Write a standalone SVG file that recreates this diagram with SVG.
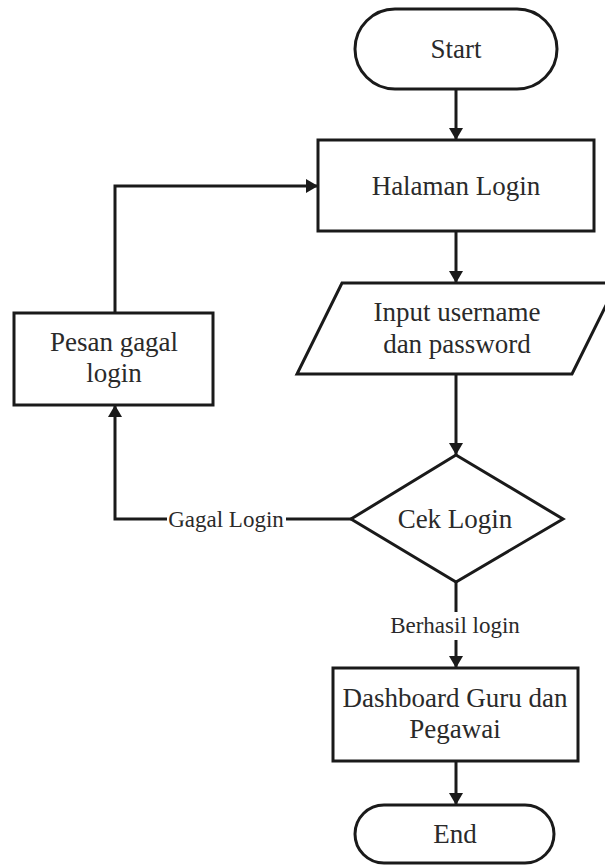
<svg xmlns="http://www.w3.org/2000/svg" width="605" height="866" viewBox="0 0 605 866">
  <style>
    .shape { fill: #ffffff; stroke: #1a1a1a; stroke-width: 3; }
    .line { fill: none; stroke: #1a1a1a; stroke-width: 3; }
    .txt { font-family: "Liberation Serif", "Times New Roman", serif; font-size: 27px; fill: #2a2a2a; text-anchor: middle; }
    .lbl { font-family: "Liberation Serif", "Times New Roman", serif; font-size: 23px; fill: #2a2a2a; text-anchor: middle; }
  </style>
  <defs>
    <marker id="arrow" viewBox="0 0 12 14" refX="12" refY="7" markerWidth="12" markerHeight="14" markerUnits="userSpaceOnUse" orient="auto">
      <path d="M0,0 L12,7 L0,14 Z" fill="#1a1a1a"/>
    </marker>
  </defs>
  <rect width="605" height="866" fill="#ffffff"/>

  <g id="connectors">
    <path class="line" d="M456,89 L456,140" marker-end="url(#arrow)"/>
    <path class="line" d="M456,231 L456,283" marker-end="url(#arrow)"/>
    <path class="line" d="M456,374 L456,455" marker-end="url(#arrow)"/>
    <path class="line" d="M456,582 L456,612"/>
    <path class="line" d="M456,640 L456,668" marker-end="url(#arrow)"/>
    <path class="line" d="M456,761 L456,805" marker-end="url(#arrow)"/>
    <path class="line" d="M351,519 L115,519 L115,405" marker-end="url(#arrow)"/>
    <path class="line" d="M115,313 L115,186 L318,186" marker-end="url(#arrow)"/>
    <g id="label-gagal">
      <rect x="167" y="505" width="119" height="27" fill="#ffffff"/>
      <text class="lbl" x="226" y="527">Gagal Login</text>
    </g>
    <text class="lbl" x="455" y="633">Berhasil login</text>
  </g>

  <g id="start">
    <rect class="shape" x="355" y="9" width="202" height="80" rx="40" ry="40"/>
    <text class="txt" x="456" y="58">Start</text>
  </g>

  <g id="halaman-login">
    <rect class="shape" x="318" y="140" width="276" height="91"/>
    <text class="txt" x="456" y="195">Halaman Login</text>
  </g>

  <g id="input">
    <polygon class="shape" points="342,283 617,283 572,374 297,374"/>
    <text class="txt" x="457" y="321">Input username</text>
    <text class="txt" x="457" y="353">dan password</text>
  </g>

  <g id="cek-login">
    <polygon class="shape" points="456,455 563,519 456,582 351,519"/>
    <text class="txt" x="455" y="528">Cek Login</text>
  </g>

  <g id="pesan-gagal">
    <rect class="shape" x="14" y="313" width="199" height="92"/>
    <text class="txt" x="114" y="351">Pesan gagal</text>
    <text class="txt" x="114" y="382">login</text>
  </g>

  <g id="dashboard">
    <rect class="shape" x="333" y="668" width="245" height="93"/>
    <text class="txt" x="455" y="707">Dashboard Guru dan</text>
    <text class="txt" x="455" y="738">Pegawai</text>
  </g>

  <g id="end">
    <rect class="shape" x="355" y="805" width="199" height="58" rx="29" ry="29"/>
    <text class="txt" x="455" y="843">End</text>
  </g>
</svg>
